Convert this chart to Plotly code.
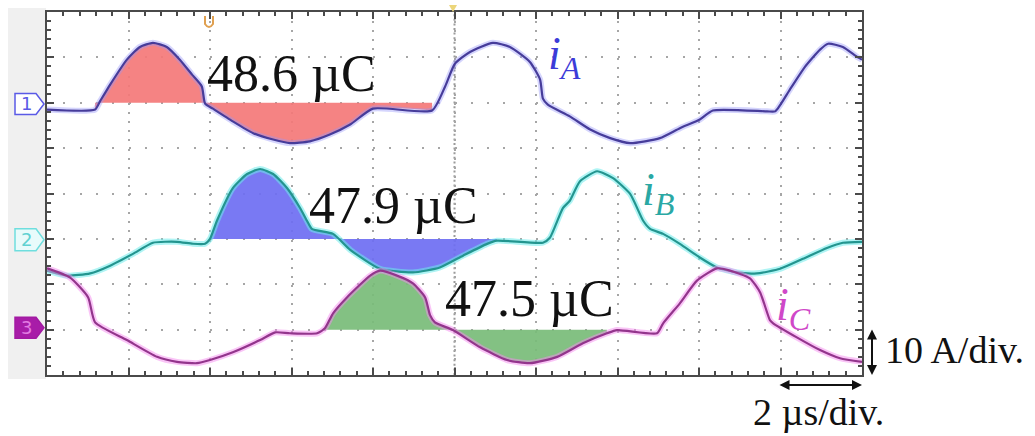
import plotly.graph_objects as go

# ---- measured phase currents: time in µs, current in A ----
t_a = [0, 1.18, 1.30, 1.55, 1.96, 2.28, 2.60, 2.94, 3.26, 3.56, 3.80, 3.88, 4.07, 4.56, 5.06, 5.55,
       5.96, 6.45, 6.94, 7.44, 8.00, 9.45, 9.77, 10.01, 10.38, 10.94, 11.36, 11.85, 12.10, 12.17,
       12.29, 12.83, 13.33, 13.82, 14.31, 15.04, 15.53, 16.02, 16.34, 17.67, 17.87, 18.23, 18.60,
       18.97, 19.17, 19.53, 19.88, 20.0]
i_a = [-1.5, -1.5, 0.3, 4.0, 9.5, 12.3, 13.2, 12.3, 9.5, 6.2, 3.6, -0.2, -1.3, -4.1, -6.7, -8.1,
       -8.9, -8.5, -7.0, -4.8, -1.3, -1.7, 3.6, 8.6, 11.2, 13.2, 12.3, 9.0, 5.1, 0.9,
       -0.4, -3.0, -5.9, -7.8, -8.9, -7.8, -5.6, -3.7, -1.7, -1.9, -1.9, 2.9, 7.9,
       11.7, 13.0, 12.3, 10.1, 9.5]

t_b = [0, 0.49, 1.06, 1.55, 2.11, 2.60, 3.19, 3.58, 3.88, 4.00, 4.17, 4.56, 4.91, 5.23, 5.55, 5.89,
       6.21, 6.38, 6.50, 7.02, 7.44, 8.17, 8.98, 9.64, 10.21, 10.80, 11.04, 12.17, 12.34, 12.66,
       12.83, 13.08, 13.50, 13.89, 14.31, 14.63, 14.80, 15.12, 15.53, 16.02, 16.44, 16.93, 17.42,
       17.99, 18.55, 19.14, 19.53, 20.0]
i_b = [-7.0, -8.1, -7.6, -5.9, -3.3, -0.85, -0.64, -1.07, -1.07, 0.0, 4.0, 11.2, 14.3, 15.4, 14.3, 11.2,
       6.8, 4.0, 2.2, 1.1, -2.4, -6.6, -7.4, -6.3, -3.7, -1.1, -0.4, -0.85, 0.24, 6.8,
       8.4, 12.7, 14.9, 13.4, 9.9, 4.0, 2.2, 1.1, -1.1, -4.1, -6.3, -7.4, -7.6,
       -6.6, -4.4, -2.0, -0.85, -0.64]

t_c = [0, 0.56, 1.01, 1.18, 1.96, 2.70, 3.19, 3.68, 4.00, 4.56, 5.23, 5.60, 5.96, 6.63, 6.82, 7.02,
       7.36, 7.93, 8.17, 8.59, 8.98, 9.28, 9.40, 9.52, 9.96, 10.63, 11.29, 11.85, 12.52, 13.15,
       13.74, 13.99, 14.97, 15.12, 15.53, 15.95, 16.44, 16.76, 17.25, 17.50, 17.74, 17.82, 18.40,
       18.97, 19.46, 20.0]
i_c = [13.5, 11.5, 7.1, 1.6, -2.3, -6.0, -7.1, -7.4, -6.7, -5.0, -2.3, -0.6, -0.8, -0.8, 0.3, 3.6,
       7.1, 11.9, 13.0, 11.9, 10.2, 7.1, 3.2, 1.6, -0.1, -3.9, -6.7, -7.4, -6.0, -3.0,
       -0.8, -0.1, -0.8, 1.4, 5.8, 10.8, 13.5, 13.0, 11.3, 8.2, 2.1, 1.4, -1.7,
       -4.5, -6.3, -7.1]

# channel ground levels on screen (A), 10 A per division
ground_a = 20
ground_b = -10
ground_c = -30

# charge-integration windows (µs) and the integrated charge of each phase
window_a = (1.18, 9.45)
window_b = (4.00, 11.04)
window_c = (6.82, 13.74)
charge_labels = ["48.6 µC", "47.9 µC", "47.5 µC"]
phase_names = ["A", "B", "C"]

# ---- page geometry (px) ----
W, H = 1035, 436
L, R, T, B = 47, 862, 10, 375
SERIF = "Liberation Serif, Times New Roman, serif"


def px(x):
    return (x - L) / (R - L)


def py(y):
    return (B - y) / (B - T)


phases = [
    dict(t=t_a, i=i_a, g=ground_a, win=window_a, line="#463c9a", glow="rgba(150,150,250,0.4)",
         fill="rgba(244,120,120,0.92)", label_col="#3c3cd8"),
    dict(t=t_b, i=i_b, g=ground_b, win=window_b, line="#23958f", glow="rgba(110,235,235,0.55)",
         fill="rgba(110,110,242,0.92)", label_col="#2aa8a4"),
    dict(t=t_c, i=i_c, g=ground_c, win=window_c, line="#93358c", glow="rgba(245,140,240,0.5)",
         fill="rgba(120,188,120,0.92)", label_col="#d048c8"),
]

fig = go.Figure()
SM = 0.55

# shaded charge areas between each trace and its ground level
for p in phases:
    t0, t1 = p["win"]
    tw = [t for t in p["t"] if t0 <= t <= t1]
    iw = [v for t, v in zip(p["t"], p["i"]) if t0 <= t <= t1]
    fig.add_trace(go.Scatter(x=[t0, t1], y=[p["g"], p["g"]], mode="lines",
                             line=dict(width=0), hoverinfo="skip", showlegend=False))
    fig.add_trace(go.Scatter(x=tw, y=[p["g"] + v for v in iw], mode="lines",
                             line=dict(width=0, shape="spline", smoothing=SM),
                             fill="tonexty", fillcolor=p["fill"],
                             hoverinfo="skip", showlegend=False))

# phase current traces with a soft phosphor halo
for p in phases:
    y = [p["g"] + v for v in p["i"]]
    fig.add_trace(go.Scatter(x=p["t"], y=y, mode="lines",
                             line=dict(color=p["glow"], width=6, shape="spline", smoothing=SM),
                             hoverinfo="skip", showlegend=False))
    fig.add_trace(go.Scatter(x=p["t"], y=y, mode="lines",
                             line=dict(color=p["line"], width=2.2, shape="spline", smoothing=SM),
                             showlegend=False))

shapes = []
# grey side panel holding the channel markers
shapes.append(dict(type="rect", xref="paper", yref="paper", layer="below",
                   x0=px(8), x1=px(46), y0=py(379), y1=py(6),
                   fillcolor="#f0f0f0", line=dict(width=0)))


# channel markers
def marker_path(x0, x1, tip, y0, y1):
    ym = (y0 + y1) / 2
    pts = [(x0, y0), (x1, y0), (tip, ym), (x1, y1), (x0, y1)]
    return "M" + " L".join(f"{px(a):.5f},{py(b):.5f}" for a, b in pts) + " Z"


markers = [("1", 92, 113, "#5a5ae6", "white", "#5a5ae6"),
           ("2", 228, 250, "#6fdede", "#e8fbfb", "#5fd2d2"),
           ("3", 317, 338, "#a21aa2", "#a81ca8", "#e27ce2")]
for _, y0, y1, lc, fc, _c in markers:
    shapes.append(dict(type="path", xref="paper", yref="paper",
                       path=marker_path(15, 36, 44, y0, y1),
                       fillcolor=fc, line=dict(color=lc, width=1.5)))

# dense centre graticule line
shapes.append(dict(type="line", xref="x", yref="paper", x0=10, x1=10, y0=0, y1=1,
                   layer="below", line=dict(color="#9a9a9a", width=2, dash="2px,2.6px")))

# trigger markers on the top edge
shapes.append(dict(type="path", xref="paper", yref="paper",
                   path=f"M{px(205):.5f},{py(14):.5f} L{px(205):.5f},{py(22):.5f} "
                        f"Q{px(209):.5f},{py(28):.5f} {px(213):.5f},{py(22):.5f} L{px(213):.5f},{py(14):.5f}",
                   line=dict(color="#e0a050", width=2)))
shapes.append(dict(type="path", xref="paper", yref="paper",
                   path=f"M{px(449):.5f},{py(3):.5f} L{px(457):.5f},{py(3):.5f} L{px(453):.5f},{py(10):.5f} Z",
                   fillcolor="#ecd67a", line=dict(width=0)))

annotations = []
for (num, y0, y1, _lc, _fc, tc) in markers:
    annotations.append(dict(xref="paper", yref="paper", x=px(26), y=py((y0 + y1) / 2),
                            xanchor="center", yanchor="middle",
                            text=num, showarrow=False,
                            font=dict(size=18, color=tc, family="DejaVu Sans")))

# integrated charge labels
charge_pos = [(3.88, 26.5), (6.38, -2.7), (9.72, -23.1)]
for (x, y), txt in zip(charge_pos, charge_labels):
    annotations.append(dict(x=x, y=y, text=txt, showarrow=False, xanchor="left", yanchor="middle",
                            font=dict(size=52, color="#111111", family=SERIF)))

# phase labels
phase_pos = [(12.25, 30.0), (14.55, 0.2), (17.85, -25.3)]
for (x, y), name, p in zip(phase_pos, phase_names, phases):
    annotations.append(dict(x=x, y=y, text=f"<i>i<sub>{name}</sub></i>", showarrow=False,
                            xanchor="left", yanchor="middle",
                            font=dict(size=46, color=p["label_col"], family=SERIF)))

# scale indicators: one vertical and one horizontal division
annotations.append(dict(xref="paper", yref="paper", x=px(872), y=py(375), ax=0, ay=-47,
                        text="", showarrow=True, arrowhead=2, startarrowhead=2,
                        arrowside="end+start", arrowsize=1, arrowwidth=2, arrowcolor="#111111"))
annotations.append(dict(xref="paper", yref="paper", x=px(862), y=py(385), ax=-84, ay=0,
                        text="", showarrow=True, arrowhead=2, startarrowhead=2,
                        arrowside="end+start", arrowsize=1, arrowwidth=2, arrowcolor="#111111"))
annotations.append(dict(xref="paper", yref="paper", x=px(883), y=py(350), xanchor="left",
                        yanchor="middle", text="10 A/div.", showarrow=False,
                        font=dict(size=38, color="#111111", family=SERIF)))
annotations.append(dict(xref="paper", yref="paper", x=px(818), y=py(412), xanchor="center",
                        yanchor="middle", text="2 µs/div.", showarrow=False,
                        font=dict(size=38, color="#111111", family=SERIF)))

axis_common = dict(showticklabels=False, showline=True, linecolor="#4a4a4a", linewidth=2,
                   mirror="allticks", ticks="inside", tickcolor="#4a4a4a", tickwidth=1.5,
                   ticklen=7, showgrid=True, gridcolor="#a6a6a6", gridwidth=2, zeroline=False,
                   fixedrange=True)

fig.update_layout(
    width=W, height=H,
    margin=dict(l=L, r=W - R, t=T, b=H - B),
    paper_bgcolor="white", plot_bgcolor="white",
    xaxis=dict(range=[0, 20], dtick=2, tick0=0, griddash="2px,7.1px",
               minor=dict(ticks="inside", dtick=0.4, ticklen=4, tickcolor="#4a4a4a", showgrid=False),
               **axis_common),
    yaxis=dict(range=[-40, 40], dtick=10, tick0=0, griddash="2px,14.3px",
               minor=dict(ticks="inside", dtick=2, ticklen=4, tickcolor="#4a4a4a", showgrid=False),
               **axis_common),
    shapes=shapes,
    annotations=annotations,
    showlegend=False,
)

fig.write_html("out.html")
